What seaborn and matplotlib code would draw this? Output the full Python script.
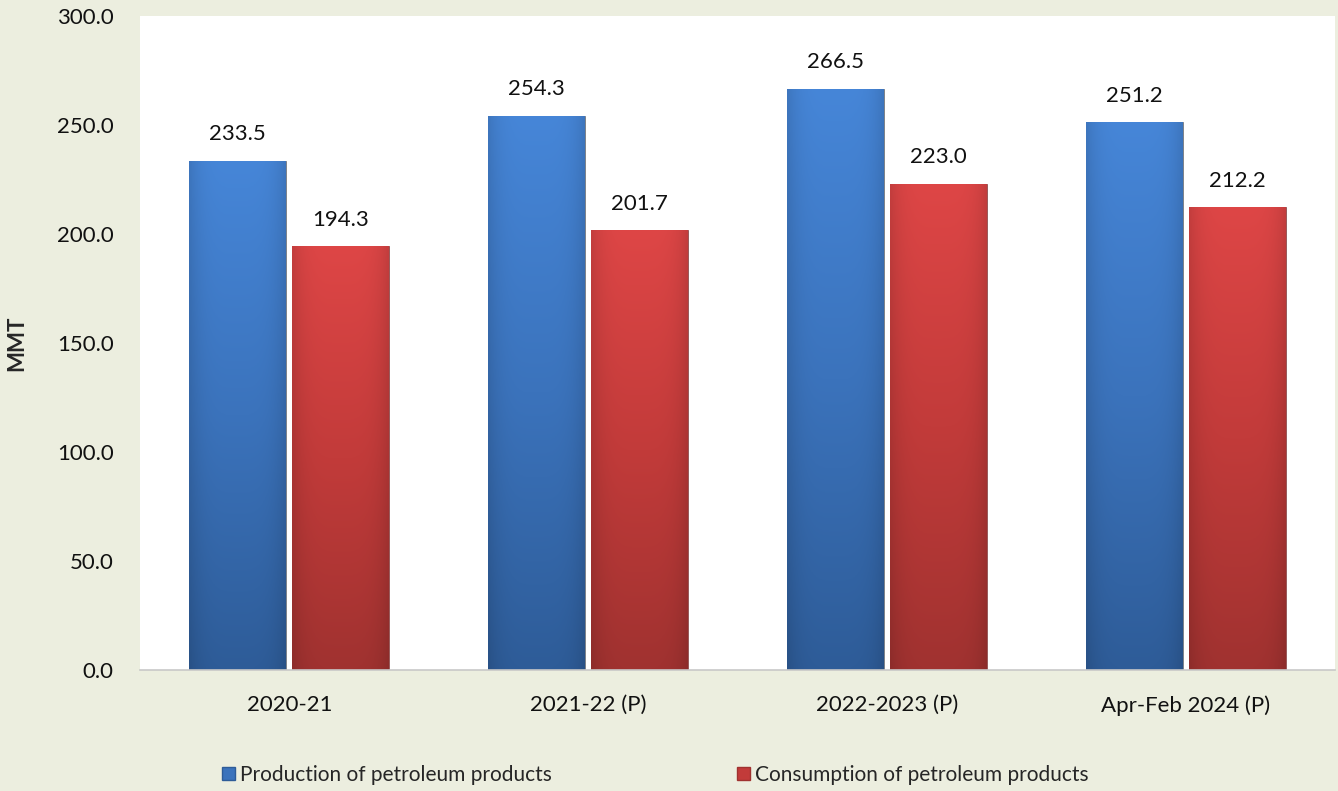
import matplotlib
matplotlib.use("Agg")
import matplotlib.pyplot as plt
import matplotlib.colors as mcolors
from matplotlib.patches import Patch
import numpy as np
import pandas as pd
import seaborn as sns

# Data
years = ["2020-21", "2021-22 (P)", "2022-2023 (P)", "Apr-Feb 2024 (P)"]
production = [233.5, 254.3, 266.5, 251.2]
consumption = [194.3, 201.7, 223.0, 212.2]
series_names = ["Production of petroleum products", "Consumption of petroleum products"]

df = pd.DataFrame({
    "year": years * 2,
    "value": production + consumption,
    "series": [series_names[0]] * 4 + [series_names[1]] * 4,
})

sns.set_style("white")
plt.rcParams["font.family"] = ["Lato", "DejaVu Sans"]

bg = "#ECEEDF"
fs = 16
fig = plt.figure(figsize=(13.38, 7.91), dpi=100)
fig.patch.set_facecolor(bg)
ax = fig.add_axes([140 / 1338, 1 - 670 / 791, 1195 / 1338, 654 / 791])
ax.set_facecolor("white")

palette = {series_names[0]: "#3E7CCB", series_names[1]: "#D24040"}
sns.barplot(data=df, x="year", y="value", hue="series", palette=palette,
            width=0.69, gap=0.06, ax=ax, legend=False, saturation=1)

# gradient shading on each bar
grads = {
    series_names[0]: mcolors.LinearSegmentedColormap.from_list("b", ["#2E5C98", "#3B73BC", "#4686D8"]),
    series_names[1]: mcolors.LinearSegmentedColormap.from_list("r", ["#A03230", "#C23B3A", "#DE4646"]),
}
gy = np.linspace(0, 1, 256).reshape(-1, 1)
gx = np.linspace(0, 1, 64)
edge = 1 - 0.12 * (np.abs(gx - 0.5) * 2) ** 4
for cont, name in zip(ax.containers, series_names):
    for bar in cont:
        x0, y0 = bar.get_x(), bar.get_y()
        w, h = bar.get_width(), bar.get_height()
        rgb = grads[name](gy * np.ones((1, 64)))[:, :, :3]
        rgb = rgb * edge[None, :, None]
        img = ax.imshow(rgb, extent=[x0, x0 + w, y0, y0 + h], origin="lower",
                        aspect="auto", zorder=bar.get_zorder() + 0.1)
        img.set_clip_path(bar)
        bar.set_edgecolor("#7A7A7A" if name == series_names[0] else "#8A5050")
        bar.set_linewidth(0.6)
    ax.bar_label(cont, fmt="%.1f", padding=12, fontsize=fs, color="#111111")

ax.set_xlim(-0.5, 3.5)
ax.set_ylim(0, 300)
ax.set_yticks(np.arange(0, 301, 50))
ax.set_yticklabels([f"{v:.1f}" for v in np.arange(0, 301, 50)])
ax.tick_params(axis="both", length=0, labelsize=fs, colors="#111111")
ax.tick_params(axis="x", pad=18)
ax.tick_params(axis="y", pad=19)
ax.set_xlabel("")
ax.set_ylabel("MMT", fontsize=fs, fontweight="bold")
ax.yaxis.set_label_coords(-0.094, 0.5)
for s in ["top", "right", "left"]:
    ax.spines[s].set_visible(False)
ax.spines["bottom"].set_color("#C8C8C8")
ax.spines["bottom"].set_linewidth(1.2)

handles = [Patch(facecolor="#3B73BC", edgecolor="#2E5C98"),
           Patch(facecolor="#C23B3A", edgecolor="#A03230")]
fig.legend(handles, series_names, loc="center left", bbox_to_anchor=(212 / 1338, 1 - 775 / 791),
           ncol=2, frameon=False, fontsize=15, handlelength=0.6, handleheight=0.6,
           handletextpad=0.25, columnspacing=8.9, borderpad=0)

fig.savefig("out.png", dpi=100, facecolor=bg)
